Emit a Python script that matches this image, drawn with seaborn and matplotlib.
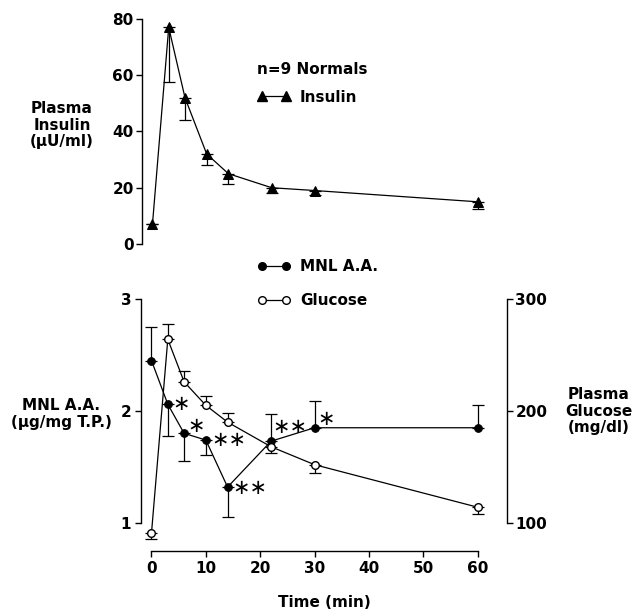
import matplotlib
matplotlib.use("Agg")
import matplotlib.pyplot as plt
import seaborn as sns
import pandas as pd
from matplotlib.lines import Line2D

# sampling times (min)
time = [0, 3, 6, 10, 14, 22, 30, 60]

# plasma insulin (uU/ml), error bars drawn downward
insulin = [7, 77, 52, 32, 25, 20, 19, 15]
insulin_lo = [0, 19.5, 8, 4, 3.5, 2, 1.5, 2.5]

# MNL ascorbic acid (ug/mg T.P.)
mnl = [2.45, 2.06, 1.80, 1.74, 1.32, 1.73, 1.85, 1.85]
mnl_lo = [0, 0.28, 0.25, 0.13, 0.27, 0, 0, 0]
mnl_hi = [0.30, 0, 0, 0, 0, 0.24, 0.24, 0.20]
mnl_stars = ["", "*", "*", "**", "**", "**", "*", ""]

# plasma glucose (mg/dl)
glucose = [91, 264, 226, 205, 190, 168, 152, 114]
glucose_lo = [5, 0, 0, 0, 0, 6, 7, 6]
glucose_hi = [0, 14, 10, 8, 8, 0, 0, 0]

sns.set_style("ticks")
plt.rcParams["font.family"] = ["DejaVu Sans"]
plt.rcParams["font.weight"] = "bold"
for k in ["text.color", "axes.labelcolor", "xtick.color", "ytick.color", "axes.edgecolor"]:
    plt.rcParams[k] = "black"
plt.rcParams["axes.linewidth"] = 1.0
plt.rcParams["xtick.major.width"] = 1.0
plt.rcParams["ytick.major.width"] = 1.0
plt.rcParams["xtick.major.size"] = 4
plt.rcParams["ytick.major.size"] = 4

df = pd.DataFrame({"time": time, "insulin": insulin, "mnl": mnl, "glucose": glucose})

W, H = 636, 610
fig = plt.figure(figsize=(W / 100, H / 100), dpi=100)


def frac(x0, y0, x1, y1):
    # pixel box (from top-left) -> figure fraction rect
    return [x0 / W, 1 - y1 / H, (x1 - x0) / W, (y1 - y0) / H]


x_lim = (-1.93, 65.4)
lw = 0.9
fs_tick = 11
fs_lab = 11

# ---------------- top panel: insulin ----------------
ax1 = fig.add_axes(frac(142, 15, 507, 250))
ax1.errorbar(time, insulin, yerr=[insulin_lo, [0] * len(time)], fmt="none",
             ecolor="black", elinewidth=lw, capsize=4, capthick=lw, zorder=2)
sns.lineplot(data=df, x="time", y="insulin", ax=ax1, color="black", lw=lw,
             marker="^", markersize=7, markeredgecolor="black", zorder=3,
             legend=False)
ax1.set_xlim(x_lim)
ax1.set_ylim(-2.13, 81.4)
ax1.set_yticks([0, 20, 40, 60, 80])
ax1.spines["left"].set_bounds(0, 80)
for s in ["top", "right", "bottom"]:
    ax1.spines[s].set_visible(False)
ax1.set_xticks([])
ax1.set_xlabel("")
ax1.set_ylabel("")
ax1.tick_params(axis="y", labelsize=fs_tick, pad=2)

fig.text(257 / W, 1 - 70 / H, "n=9 Normals", ha="left", va="center",
         fontsize=fs_lab, fontweight="bold")
ins_handle = Line2D([], [], color="black", lw=lw, marker="^", markersize=7)
fig.legend([ins_handle], ["Insulin"], loc="center left",
           bbox_to_anchor=(257 / W, 1 - 97 / H), frameon=False, numpoints=2,
           borderpad=0, borderaxespad=0, handlelength=2.2,
           handletextpad=0.6, fontsize=fs_lab)

# ---------------- bottom panel: MNL A.A. + glucose ----------------
ax2 = fig.add_axes(frac(141, 299, 507, 551))
ax3 = ax2.twinx()
ax2.errorbar(time, mnl, yerr=[mnl_lo, mnl_hi], fmt="none", ecolor="black",
             elinewidth=lw, capsize=4, capthick=lw, zorder=2)
sns.lineplot(data=df, x="time", y="mnl", ax=ax2, color="black", lw=lw,
             marker="o", markersize=5.5, markeredgecolor="black", zorder=3,
             legend=False)
ax3.errorbar(time, glucose, yerr=[glucose_lo, glucose_hi], fmt="none",
             ecolor="black", elinewidth=lw, capsize=4, capthick=lw, zorder=2)
sns.lineplot(data=df, x="time", y="glucose", ax=ax3, color="black", lw=lw,
             marker="o", markersize=5.5, markerfacecolor="white",
             markeredgecolor="black", markeredgewidth=1.0, zorder=3,
             legend=False)

offsets = {1: (3, 0), 2: (2.5, 5), 3: (4, 0), 4: (3.5, -0.5), 5: (1, 10), 6: (2, 6.5)}
for i, s in enumerate(mnl_stars):
    if s:
        dx, dy = offsets[i]
        ax2.annotate(s.replace("*", "\u2217"), (time[i], mnl[i]), xytext=(dx, dy),
                     textcoords="offset points", ha="left", va="center",
                     fontsize=15, fontweight="normal")

ax2.set_xlim(x_lim)
ax2.set_ylim(0.749, 3.0)
ax3.set_ylim(74.9, 300)
ax2.set_yticks([1, 2, 3])
ax3.set_yticks([100, 200, 300])
ax2.set_xticks([0, 10, 20, 30, 40, 50, 60])
ax2.spines["left"].set_bounds(1, 3)
ax2.spines["bottom"].set_bounds(0, 60)
ax3.spines["right"].set_bounds(100, 300)
for a in (ax2, ax3):
    a.spines["top"].set_visible(False)
ax2.spines["right"].set_visible(False)
ax3.spines["left"].set_visible(False)
ax3.spines["bottom"].set_visible(False)
ax2.tick_params(labelsize=fs_tick, pad=3)
ax3.tick_params(labelsize=fs_tick, pad=2)
ax2.set_ylabel("")
ax3.set_ylabel("")
ax2.set_xlabel("Time (min)", fontsize=fs_lab, fontweight="bold", labelpad=14)

handles = [
    Line2D([], [], color="black", lw=lw, marker="o", markersize=5.5,
           markerfacecolor="black", markeredgecolor="black"),
    Line2D([], [], color="black", lw=lw, marker="o", markersize=5.5,
           markerfacecolor="white", markeredgecolor="black"),
]
fig.legend(handles, ["MNL A.A.", "Glucose"], loc="upper left",
           bbox_to_anchor=(257 / W, 1 - 259 / H), frameon=False, numpoints=2,
           borderpad=0, borderaxespad=0, handlelength=2.2,
           handletextpad=0.6, labelspacing=1.25, fontsize=fs_lab)

# axis titles
fig.text(62 / W, 1 - 125 / H, "Plasma\nInsulin\n(\u03bcU/ml)", ha="center",
         va="center", fontsize=fs_lab, fontweight="bold", linespacing=1.1)
fig.text(61 / W, 1 - 414 / H, "MNL A.A.\n(\u03bcg/mg T.P.)", ha="center",
         va="center", fontsize=fs_lab, fontweight="bold", linespacing=1.2)
fig.text(599 / W, 1 - 411 / H, "Plasma\nGlucose\n(mg/dl)", ha="center",
         va="center", fontsize=fs_lab, fontweight="bold", linespacing=1.1)

fig.savefig("out.png", dpi=100, facecolor="white")
